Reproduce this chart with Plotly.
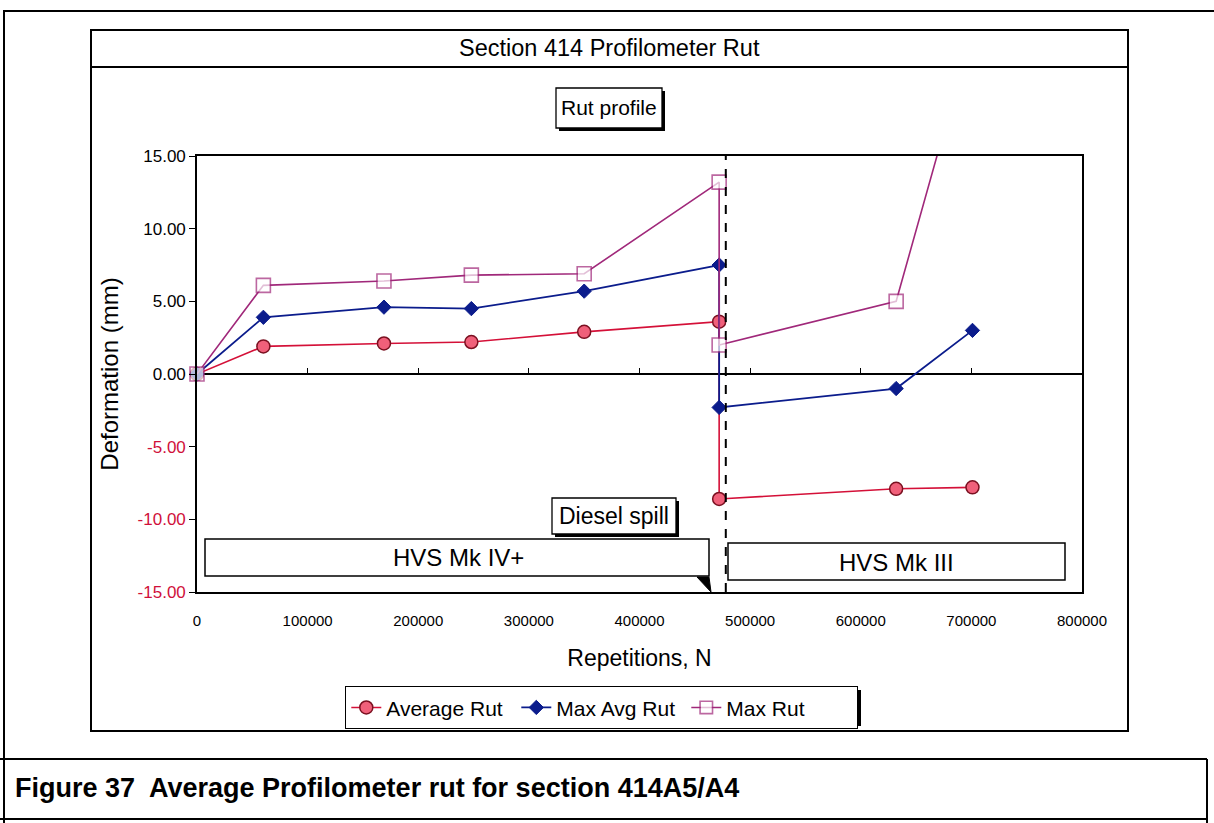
import plotly.graph_objects as go

# ---------------- data ----------------
repetitions = [0, 60000, 169000, 248000, 350000, 472000, 472000, 632000, 701000]
average_rut = [0, 1.9, 2.1, 2.2, 2.9, 3.6, -8.6, -7.9, -7.8]
max_avg_rut = [0, 3.9, 4.6, 4.5, 5.7, 7.5, -2.3, -1.0, 3.0]
max_rut = [0, 6.1, 6.4, 6.8, 6.9, 13.2, 2.0, 5.0, 23.7]

spill_repetition = 478000
y_ticks = [15, 10, 5, 0, -5, -10, -15]
x_ticks = [0, 100000, 200000, 300000, 400000, 500000, 600000, 700000, 800000]

title_text = "Section 414 Profilometer Rut"
caption_text = "Figure 37  Average Profilometer rut for section 414A5/A4"

# ---------------- layout helpers ----------------
W, H = 1214, 823
FONT = "Liberation Sans, Arial, sans-serif"
RED = "#d41038"
NEG = "#d0103a"
BLUE = "#0b1c8c"
MAG = "#a0287a"


def fx(p):
    return p / W


def fy(p):
    return 1 - p / H


PLOT_L, PLOT_R, PLOT_T, PLOT_B = 197, 1082, 156, 592
Y_MIN, Y_MAX = -15, 15

fig = go.Figure()

fig.add_trace(go.Scatter(
    x=repetitions, y=average_rut, name="Average Rut", mode="lines+markers",
    line=dict(color=RED, width=1.6),
    marker=dict(symbol="circle", size=13, color="#f0607a",
                line=dict(color="#7a1020", width=1.5)),
    cliponaxis=False,
))
fig.add_trace(go.Scatter(
    x=repetitions, y=max_avg_rut, name="Max Avg Rut", mode="lines+markers",
    line=dict(color=BLUE, width=1.8),
    marker=dict(symbol="diamond", size=11, color=BLUE,
                line=dict(color=BLUE, width=1)),
    cliponaxis=False,
))
fig.add_trace(go.Scatter(
    x=repetitions, y=max_rut, name="Max Rut", mode="lines+markers",
    line=dict(color=MAG, width=1.6),
    marker=dict(symbol="square", size=[14 if v <= Y_MAX else 0 for v in max_rut],
                color="white", line=dict(color=MAG, width=1.6)),
    cliponaxis=False,
))
# helper axis carrying the tick marks on the zero line
fig.add_trace(go.Scatter(x=[0], y=[0], xaxis="x2", mode="markers",
                         marker=dict(opacity=0), showlegend=False, hoverinfo="skip"))

ydom = [fy(PLOT_B), fy(PLOT_T)]
zero_pos = ydom[0] + (0 - Y_MIN) / (Y_MAX - Y_MIN) * (ydom[1] - ydom[0])

ticktext = []
for v in y_ticks:
    s = f"{v:.2f}"
    ticktext.append(f"<span style='color:{NEG}'>{s}</span>" if v < 0 else s)

shapes = []
# outer page frame (left and top)
shapes.append(dict(type="line", xref="paper", yref="paper", x0=fx(4), x1=fx(4), y0=fy(10), y1=fy(823),
                   line=dict(color="black", width=2)))
shapes.append(dict(type="line", xref="paper", yref="paper", x0=fx(4), x1=fx(1214), y0=fy(11), y1=fy(11),
                   line=dict(color="black", width=2)))
# chart frame
shapes.append(dict(type="rect", xref="paper", yref="paper", x0=fx(91), x1=fx(1128), y0=fy(30), y1=fy(731),
                   line=dict(color="black", width=2)))
# title box bottom line
shapes.append(dict(type="line", xref="paper", yref="paper", x0=fx(91), x1=fx(1128), y0=fy(67), y1=fy(67),
                   line=dict(color="black", width=2)))
# caption box
shapes.append(dict(type="line", xref="paper", yref="paper", x0=0, x1=fx(1207), y0=fy(759), y1=fy(759),
                   line=dict(color="black", width=2)))
shapes.append(dict(type="line", xref="paper", yref="paper", x0=fx(1207), x1=fx(1207), y0=fy(759), y1=fy(823),
                   line=dict(color="black", width=2)))
shapes.append(dict(type="line", xref="paper", yref="paper", x0=0, x1=fx(1207), y0=fy(819), y1=fy(819),
                   line=dict(color="black", width=2)))


def shadow_box(x0, y0, x1, y1, off=3):
    shapes.append(dict(type="rect", xref="paper", yref="paper", x0=fx(x0 + off), x1=fx(x1 + off),
                       y0=fy(y1 + off), y1=fy(y0 + off), fillcolor="black", line=dict(width=0)))
    shapes.append(dict(type="rect", xref="paper", yref="paper", x0=fx(x0), x1=fx(x1),
                       y0=fy(y1), y1=fy(y0), fillcolor="white", line=dict(color="black", width=1.3)))


# "Rut profile" box
shadow_box(556, 88, 662, 128)
# legend shadow
shapes.append(dict(type="rect", xref="paper", yref="paper", x0=fx(349), x1=fx(861),
                   y0=fy(726), y1=fy(690), fillcolor="black", line=dict(width=0)))

# dashed spill line
shapes.append(dict(type="line", xref="x", yref="y", x0=spill_repetition, x1=spill_repetition,
                   y0=Y_MIN, y1=Y_MAX, line=dict(color="black", width=2, dash="dash")))
# HVS Mk IV+ callout box
shapes.append(dict(type="path", xref="paper", yref="paper",
                   path=f"M {fx(697)},{fy(577)} L {fx(709)},{fy(577)} L {fx(711)},{fy(592)} Z",
                   fillcolor="black", line=dict(color="black", width=1)))
shapes.append(dict(type="rect", xref="paper", yref="paper", x0=fx(205), x1=fx(709), y0=fy(576), y1=fy(539),
                   fillcolor="white", line=dict(color="black", width=1.5)))
# HVS Mk III box
shapes.append(dict(type="rect", xref="paper", yref="paper", x0=fx(728), x1=fx(1065), y0=fy(580), y1=fy(543),
                   fillcolor="white", line=dict(color="black", width=1.5)))
# Diesel spill box
shadow_box(552, 498, 676, 534)

annotations = [
    dict(text=title_text, x=fx(609), y=fy(48), xref="paper", yref="paper", showarrow=False,
         font=dict(size=23.5, color="black", family=FONT), xanchor="center", yanchor="middle"),
    dict(text="Rut profile", x=fx(609), y=fy(108), xref="paper", yref="paper", showarrow=False,
         font=dict(size=21, color="black", family=FONT), xanchor="center", yanchor="middle"),
    dict(text="HVS Mk IV+", x=fx(458), y=fy(557), xref="paper", yref="paper", showarrow=False,
         font=dict(size=24, color="black", family=FONT), xanchor="center", yanchor="middle"),
    dict(text="HVS Mk III", x=fx(896), y=fy(562), xref="paper", yref="paper", showarrow=False,
         font=dict(size=24, color="black", family=FONT), xanchor="center", yanchor="middle"),
    dict(text="Diesel spill", x=fx(614), y=fy(516), xref="paper", yref="paper", showarrow=False,
         font=dict(size=23, color="black", family=FONT), xanchor="center", yanchor="middle"),
    dict(text="<b>" + caption_text + "</b>", x=fx(13), y=fy(788), xref="paper", yref="paper",
         showarrow=False, font=dict(size=27, color="black", family=FONT),
         xanchor="left", yanchor="middle"),
]

fig.update_layout(
    width=W, height=H,
    margin=dict(l=0, r=0, t=0, b=0, autoexpand=False),
    paper_bgcolor="white", plot_bgcolor="white",
    font=dict(family=FONT, color="black"),
    showlegend=True,
    legend=dict(orientation="h", x=fx(345), y=fy(686), xanchor="left", yanchor="top",
                bgcolor="white", bordercolor="black", borderwidth=1.3,
                font=dict(size=21, family=FONT, color="black"),
                itemsizing="trace", tracegroupgap=0, entrywidth=125),
    xaxis=dict(domain=[fx(PLOT_L), fx(PLOT_R)], range=[0, 800000], tickvals=x_ticks,
               ticktext=[str(v) for v in x_ticks], tickfont=dict(size=15, family=FONT),
               showline=True, mirror=True, linecolor="black", linewidth=1.6,
               showgrid=False, zeroline=False, ticks="", ticklabelstandoff=14, automargin=False,
               title=dict(text="Repetitions, N", font=dict(size=23, family=FONT), standoff=22)),
    xaxis2=dict(overlaying="x", matches="x", anchor="free", position=zero_pos, side="bottom",
                tickvals=x_ticks, ticks="inside", ticklen=6, tickcolor="black", tickwidth=1.3,
                showticklabels=False, showline=False, showgrid=False, zeroline=False, automargin=False),
    yaxis=dict(domain=ydom, range=[Y_MIN, Y_MAX], tickvals=y_ticks, ticktext=ticktext,
               tickfont=dict(size=17, family=FONT), automargin=False,
               showline=True, mirror=True, linecolor="black", linewidth=1.6,
               showgrid=False, zeroline=True, zerolinecolor="black", zerolinewidth=1.6,
               ticks="outside", ticklen=6, tickcolor="black",
               title=dict(text="Deformation (mm)", font=dict(size=24, family=FONT), standoff=12)),
    shapes=shapes,
    annotations=annotations,
)

fig.write_html("out.html", config={"displayModeBar": False},
               post_script="document.body.style.margin='0px';")
